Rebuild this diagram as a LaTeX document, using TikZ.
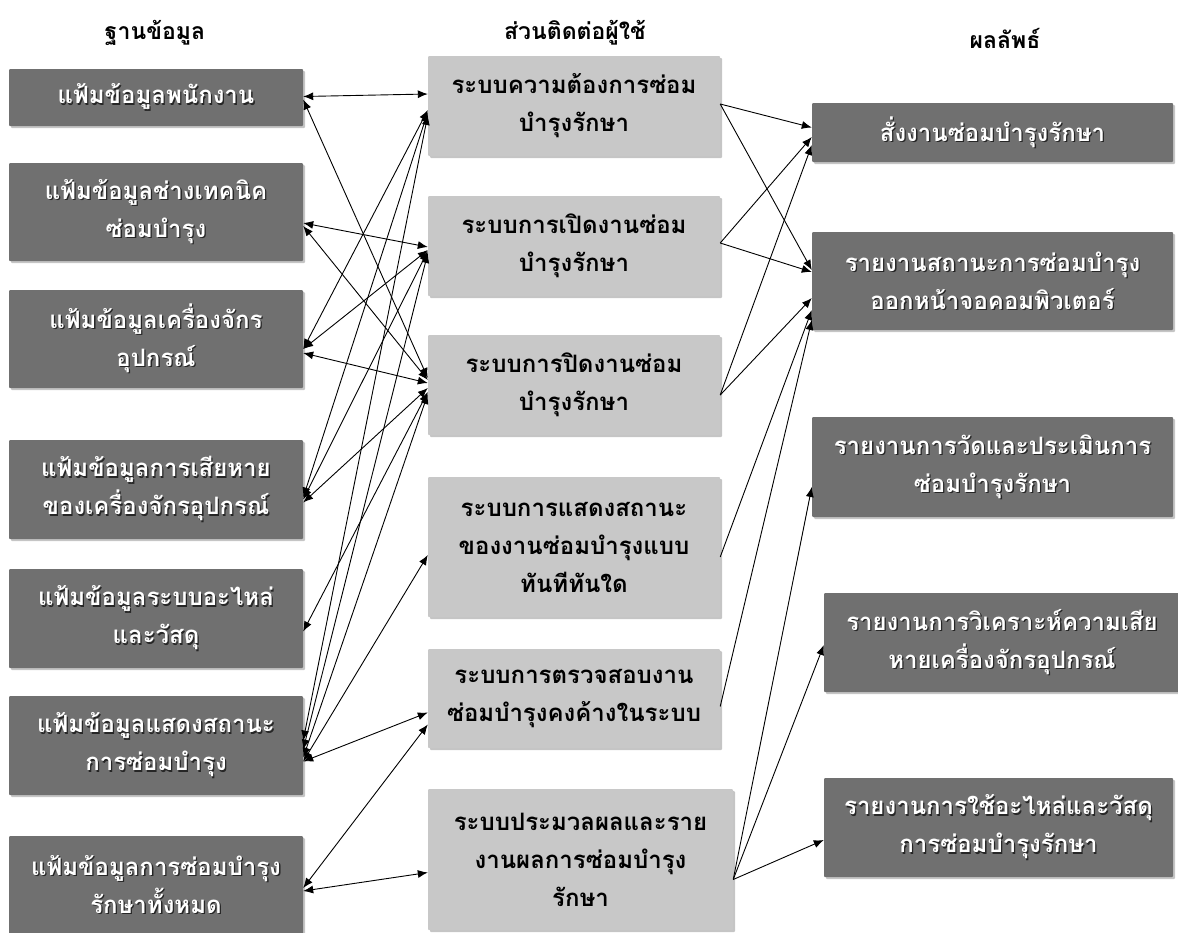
\documentclass[tikz,border=0pt]{standalone}
\usepackage{fontspec}
\newfontfamily\thaifont[Script=Thai]{Loma}
\usetikzlibrary{arrows.meta,shadows}

\definecolor{filegray}{RGB}{112,112,112}
\definecolor{sysgray}{RGB}{200,200,200}

% white text with a dark offset copy behind it
\newcommand{\emb}[1]{\rlap{\kern1.3pt\raisebox{-1.3pt}{\textcolor{black!85}{#1}}}#1}

\tikzset{
  darkbox/.style={rectangle,fill=filegray,text=white,align=center,inner sep=0pt,
    rounded corners=1pt,font=\thaifont\bfseries\fontsize{24}{38}\selectfont,
    drop shadow={shadow xshift=2pt,shadow yshift=-2pt,opacity=0.45}},
  sysbox/.style={rectangle,fill=sysgray,text=black,align=center,inner sep=0pt,
    rounded corners=1pt,font=\thaifont\bfseries\fontsize{24}{38}\selectfont,
    drop shadow={shadow xshift=2pt,shadow yshift=-2pt,opacity=0.45}},
  heading/.style={font=\thaifont\bfseries\fontsize{23}{26}\selectfont},
  link/.style={{Latex[length=10pt,width=8pt]}-{Latex[length=10pt,width=8pt]},line width=0.9pt},
  feed/.style={-{Latex[length=10pt,width=8pt]},line width=0.9pt}
}

\begin{document}
\begin{tikzpicture}[x=1pt,y=-1pt]
\useasboundingbox[fill=white] (0,0) rectangle (1178,932);

% headings
\node[heading] (hdb) at (155,33) {ฐานข้อมูล};
\node[heading] (hui) at (575,33) {ส่วนติดต่อผู้ใช้};
\node[heading] (hout) at (1005,38) {ผลลัพธ์};

% data files
\node[darkbox,minimum width=294pt,minimum height=57pt] (L1) at (156,97.5) {\emb{แฟ้มข้อมูลพนักงาน}};
\node[darkbox,minimum width=294pt,minimum height=98pt] (L2) at (156,212) {\emb{แฟ้มข้อมูลช่างเทคนิค}\\\emb{ซ่อมบำรุง}};
\node[darkbox,minimum width=294pt,minimum height=98pt] (L3) at (156,339) {\emb{แฟ้มข้อมูลเครื่องจักร}\\\emb{อุปกรณ์}};
\node[darkbox,minimum width=294pt,minimum height=99pt] (L4) at (156,489.5) {\emb{แฟ้มข้อมูลการเสียหาย}\\\emb{ของเครื่องจักรอุปกรณ์}};
\node[darkbox,minimum width=294pt,minimum height=99pt] (L5) at (156,618.5) {\emb{แฟ้มข้อมูลระบบอะไหล่}\\\emb{และวัสดุ}};
\node[darkbox,minimum width=294pt,minimum height=99pt] (L6) at (156,745.5) {\emb{แฟ้มข้อมูลแสดงสถานะ}\\\emb{การซ่อมบำรุง}};
\node[darkbox,minimum width=294pt,minimum height=98pt] (L7) at (156,885) {\emb{แฟ้มข้อมูลการซ่อมบำรุง}\\\emb{รักษาทั้งหมด}};

% user interface systems
\node[sysbox,minimum width=292pt,minimum height=100pt] (M1) at (574,106) {ระบบความต้องการซ่อม\\บำรุงรักษา};
\node[sysbox,minimum width=292pt,minimum height=100pt] (M2) at (574,246) {ระบบการเปิดงานซ่อม\\บำรุงรักษา};
\node[sysbox,minimum width=292pt,minimum height=100pt] (M3) at (574,385) {ระบบการปิดงานซ่อม\\บำรุงรักษา};
\node[sysbox,minimum width=292pt,minimum height=140pt] (M4) at (574,547) {ระบบการแสดงสถานะ\\ของงานซ่อมบำรุงแบบ\\ทันทีทันใด};
\node[sysbox,minimum width=292pt,minimum height=99pt] (M5) at (574,698.5) {ระบบการตรวจสอบงาน\\ซ่อมบำรุงคงค้างในระบบ};
\node[sysbox,minimum width=305pt,minimum height=141pt] (M6) at (580.5,859.5) {ระบบประมวลผลและราย\\งานผลการซ่อมบำรุง\\รักษา};

% reports
\node[darkbox,minimum width=361pt,minimum height=59pt] (R1) at (992.5,132.5) {\emb{สั่งงานซ่อมบำรุงรักษา}};
\node[darkbox,minimum width=361pt,minimum height=98pt] (R2) at (992.5,281) {\emb{รายงานสถานะการซ่อมบำรุง}\\\emb{ออกหน้าจอคอมพิวเตอร์}};
\node[darkbox,minimum width=361pt,minimum height=100pt] (R3) at (992.5,467) {\emb{รายงานการวัดและประเมินการ}\\\emb{ซ่อมบำรุงรักษา}};
\node[darkbox,minimum width=356pt,minimum height=99pt] (R4) at (1002,642.5) {\emb{รายงานการวิเคราะห์ความเสีย}\\\emb{หายเครื่องจักรอุปกรณ์}};
\node[darkbox,minimum width=349pt,minimum height=99pt] (R5) at (998.5,827.5) {\emb{รายงานการใช้อะไหล่และวัสดุ}\\\emb{การซ่อมบำรุงรักษา}};

% files <-> systems
\draw[link] ([yshift=1pt]L1.east) -- ([yshift=12pt]M1.west);
\draw[link] ([yshift=-2pt]L1.east) -- ([yshift=7pt]M3.west);
\draw[link] ([yshift=-11pt]L2.east) -- ([yshift=-1pt]M2.west);
\draw[link] ([yshift=-14pt]L2.east) -- ([yshift=5pt]M3.west);
\draw[link] ([yshift=-10pt]L3.east) -- ([yshift=-4pt]M1.west);
\draw[link] ([yshift=-10pt]L3.east) -- ([yshift=-4pt]M2.west);
\draw[link] ([yshift=-14pt]L3.east) -- ([yshift=2pt]M3.west);
\draw[link] ([yshift=-8pt]L4.east) -- ([yshift=-6pt]M1.west);
\draw[link] ([yshift=-10pt]L4.east) -- ([yshift=-5pt]M2.west);
\draw[link] ([yshift=-13pt]L4.east) -- ([yshift=-3pt]M3.west);
\draw[link] ([yshift=-13pt]L5.east) -- ([yshift=-7pt]M3.west);
\draw[link] ([yshift=5pt]L6.east) -- ([yshift=-9pt]M1.west);
\draw[link] ([yshift=-4pt]L6.east) -- ([yshift=-7pt]M2.west);
\draw[link] ([yshift=-12pt]L6.east) -- ([yshift=-9pt]M3.west);
\draw[link] ([yshift=-16pt]L6.east) -- ([yshift=-8pt]M4.west);
\draw[link] ([yshift=-16pt]L6.east) -- ([yshift=-14pt]M5.west);
\draw[link] ([yshift=-3pt]L7.east) -- ([yshift=-26pt]M5.west);
\draw[link] ([yshift=-6pt]L7.east) -- ([yshift=-13pt]M6.west);

% systems -> reports
\draw[feed] ([yshift=2pt]M1.east) -- ([yshift=5pt]R1.west);
\draw[feed] ([yshift=2pt]M1.east) -- ([yshift=11pt]R2.west);
\draw[feed] ([yshift=3pt]M2.east) -- ([yshift=-4.5pt]R1.west);
\draw[feed] ([yshift=3pt]M2.east) -- ([yshift=9pt]R2.west);
\draw[feed] ([yshift=-10pt]M3.east) -- ([yshift=-12.5pt]R1.west);
\draw[feed] ([yshift=-10pt]M3.east) -- ([yshift=-17pt]R2.west);
\draw[feed] ([yshift=-10pt]M4.east) -- ([yshift=-29pt]R2.west);
\draw[feed] ([yshift=-8pt]M5.east) -- ([yshift=-39pt]R2.west);
\draw[feed] ([yshift=-20pt]M6.east) -- ([yshift=-20pt]R3.west);
\draw[feed] ([yshift=-20pt]M6.east) -- ([yshift=-2.5pt]R4.west);
\draw[feed] ([yshift=-20pt]M6.east) -- ([yshift=-12.5pt]R5.west);
\end{tikzpicture}
\end{document}
